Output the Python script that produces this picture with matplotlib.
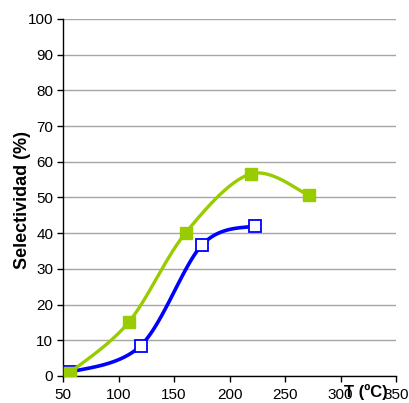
import numpy as np
import matplotlib.pyplot as plt

plt.rcParams['font.family'] = ['Liberation Sans', 'DejaVu Sans']

# Selectivity vs. temperature
temp_a = [56, 109, 160.5, 219, 271.5]
sel_a = [0.9, 15.0, 40.1, 56.6, 50.6]

temp_b = [56, 120, 175.5, 223]
sel_b = [1.0, 8.5, 36.8, 42.1]

x_ticks = [50, 100, 150, 200, 250, 300, 350]
y_ticks = [0, 10, 20, 30, 40, 50, 60, 70, 80, 90, 100]


def smooth(ax, xs, ys, n=40):
    # spreadsheet-style smoothed line: cubic Bezier segments built in display space
    pts = ax.transData.transform(np.column_stack([xs, ys]))
    p = np.vstack([pts[0], pts, pts[-1]])
    out = []
    t = np.linspace(0, 1, n)[:, None]
    for i in range(1, len(p) - 2):
        p0, p1, p2, p3 = p[i - 1], p[i], p[i + 1], p[i + 2]
        c1 = p1 + (p2 - p0) / 6
        c2 = p2 - (p3 - p1) / 6
        seg = ((1 - t) ** 3) * p1 + 3 * ((1 - t) ** 2) * t * c1 + 3 * (1 - t) * t ** 2 * c2 + t ** 3 * p2
        out.append(seg)
    out = np.vstack(out)
    d = ax.transData.inverted().transform(out)
    return d[:, 0], d[:, 1]


fig = plt.figure(figsize=(4.10, 4.03), dpi=100)
ax = fig.add_axes([0.1537, 0.067, 0.8122, 0.886])
ax.set_xlim(50, 350)
ax.set_ylim(0, 100)
ax.set_xticks(x_ticks)
ax.set_yticks(y_ticks)
ax.tick_params(labelsize=11, length=4, width=1, direction='out', colors='black')
ax.tick_params(axis='x', pad=5)
ax.tick_params(axis='y', pad=3)

ax.grid(True, axis='y', color='#a6a6a6', linewidth=1.0)
ax.set_axisbelow(True)
for s in ['top', 'right']:
    ax.spines[s].set_visible(False)
for s in ['left', 'bottom']:
    ax.spines[s].set_linewidth(1.0)
    ax.spines[s].set_color('black')

bx, by = smooth(ax, temp_b, sel_b)
ax.plot(bx, by, color='#0000FF', linewidth=2.6, solid_capstyle='round', zorder=3)
ax.plot(temp_b, sel_b, linestyle='none', marker='s', markersize=8.5,
        markerfacecolor='white', markeredgecolor='#0000FF', markeredgewidth=1.3, zorder=4)

gx, gy = smooth(ax, temp_a, sel_a)
ax.plot(gx, gy, color='#99CC00', linewidth=2.4, solid_capstyle='round', zorder=5)
ax.plot(temp_a, sel_a, linestyle='none', marker='s', markersize=8,
        markerfacecolor='#99CC00', markeredgecolor='#99CC00', zorder=6)

ax.set_ylabel('Selectividad (%)', fontsize=13, fontweight='bold', va='center')
ax.yaxis.set_label_coords(-0.123, 0.493)
fig.text(0.893, 0.027, 'T (ºC)', fontsize=12, fontweight='bold', ha='center', va='center')

fig.savefig('out.png', dpi=100)
